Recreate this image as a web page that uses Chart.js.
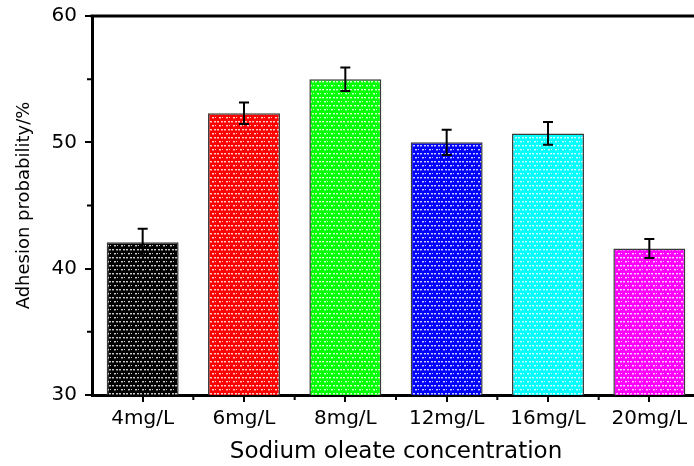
<!DOCTYPE html>
<html>
<head>
<meta charset="utf-8">
<script src="https://cdn.jsdelivr.net/npm/chart.js@4.4.1/dist/chart.umd.min.js"></script>
<style>
  html, body { margin: 0; padding: 0; background: #fff; overflow: hidden; }
  #wrap { width: 700px; height: 466px; }
</style>
</head>
<body>
<div id="wrap"><canvas id="chart" width="700" height="466"></canvas></div>
<script>
const categories = ['4mg/L', '6mg/L', '8mg/L', '12mg/L', '16mg/L', '20mg/L'];
const adhesion = [42.1, 52.3, 55.0, 50.0, 50.7, 41.6];
const errors = [1.05, 0.85, 0.93, 1.0, 0.9, 0.75];
const barColors = ['#000000', '#ff0000', '#00ff00', '#0000ff', '#00ffff', '#ff00ff'];
const yMinorTicks = [35, 45, 55];

const FONT = "'DejaVu Sans', Arial, sans-serif";

function dotPattern(color) {
  const c = document.createElement('canvas');
  c.width = 7;
  c.height = 8;
  const g = c.getContext('2d');
  g.fillStyle = color;
  g.fillRect(0, 0, 7, 8);
  g.fillStyle = 'rgba(255,255,255,0.8)';
  g.fillRect(0, 1, 2, 1);
  g.fillRect(4, 1, 2, 1);
  g.fillRect(2, 5, 2, 1);
  g.fillRect(5, 5, 1, 1);
  g.fillStyle = 'rgba(255,255,255,0.35)';
  g.fillRect(0, 2, 2, 1);
  g.fillRect(4, 2, 2, 1);
  g.fillRect(2, 6, 2, 1);
  return g.createPattern(c, 'repeat');
}

// error bars, minor ticks and the top frame line
const extras = {
  id: 'extras',
  afterDatasetsDraw(chart) {
    const ctx = chart.ctx;
    const y = chart.scales.y;
    const meta = chart.getDatasetMeta(0);
    ctx.save();
    ctx.strokeStyle = '#000';
    ctx.lineWidth = 2;
    meta.data.forEach((bar, i) => {
      const top = y.getPixelForValue(adhesion[i] + errors[i]);
      const bot = y.getPixelForValue(adhesion[i] - errors[i]);
      ctx.beginPath();
      ctx.moveTo(bar.x, top);
      ctx.lineTo(bar.x, bot);
      ctx.moveTo(bar.x - 5, top);
      ctx.lineTo(bar.x + 5, top);
      ctx.moveTo(bar.x - 5, bot);
      ctx.lineTo(bar.x + 5, bot);
      ctx.stroke();
    });
    ctx.restore();
  },
  afterDraw(chart) {
    const ctx = chart.ctx;
    const area = chart.chartArea;
    const x = chart.scales.x;
    const y = chart.scales.y;
    ctx.save();
    ctx.strokeStyle = '#000';
    ctx.lineWidth = 3;
    ctx.beginPath();
    ctx.moveTo(area.left - 1.5, area.top);
    ctx.lineTo(chart.width, area.top);
    ctx.stroke();

    ctx.lineWidth = 2;
    ctx.beginPath();
    yMinorTicks.forEach((v) => {
      const py = y.getPixelForValue(v);
      ctx.moveTo(area.left - 5, py);
      ctx.lineTo(area.left, py);
    });
    for (let i = 1; i < categories.length; i++) {
      const px = (x.getPixelForValue(i - 1) + x.getPixelForValue(i)) / 2;
      ctx.moveTo(px, area.bottom);
      ctx.lineTo(px, area.bottom + 5);
    }
    ctx.stroke();
    ctx.restore();
  },
};

new Chart(document.getElementById('chart'), {
  type: 'bar',
  data: {
    labels: categories,
    datasets: [{
      data: adhesion,
      backgroundColor: barColors.map(dotPattern),
      borderColor: '#3a3a3a',
      borderWidth: 1.5,
      barPercentage: 0.71,
      categoryPercentage: 1,
    }],
  },
  options: {
    responsive: false,
    animation: false,
    layout: { padding: { top: 16, right: 0, bottom: 0, left: 0 } },
    plugins: { legend: { display: false }, tooltip: { enabled: false } },
    scales: {
      x: {
        afterFit: (s) => { s.height = 71; },
        border: { color: '#000', width: 3 },
        grid: { display: true, offset: false, drawOnChartArea: false, tickLength: 7, color: '#000', lineWidth: 2 },
        ticks: { color: '#000', padding: 5, maxRotation: 0, font: { family: FONT, size: 20 } },
        title: {
          display: true,
          text: 'Sodium oleate concentration',
          color: '#000',
          font: { family: FONT, size: 23 },
          padding: { top: 0, bottom: 0 },
        },
      },
      y: {
        min: 30,
        max: 60,
        afterFit: (s) => { s.width = 92; s.paddingTop = 0; s.paddingBottom = 0; },
        border: { color: '#000', width: 3 },
        grid: { display: true, drawOnChartArea: false, tickLength: 7, color: '#000', lineWidth: 2 },
        ticks: { stepSize: 10, color: '#000', padding: 8, font: { family: FONT, size: 20 } },
        title: {
          display: true,
          text: 'Adhesion probability/%',
          color: '#000',
          font: { family: FONT, size: 18 },
          padding: { top: 14, bottom: 0 },
        },
      },
    },
  },
  plugins: [extras],
});
</script>
</body>
</html>
